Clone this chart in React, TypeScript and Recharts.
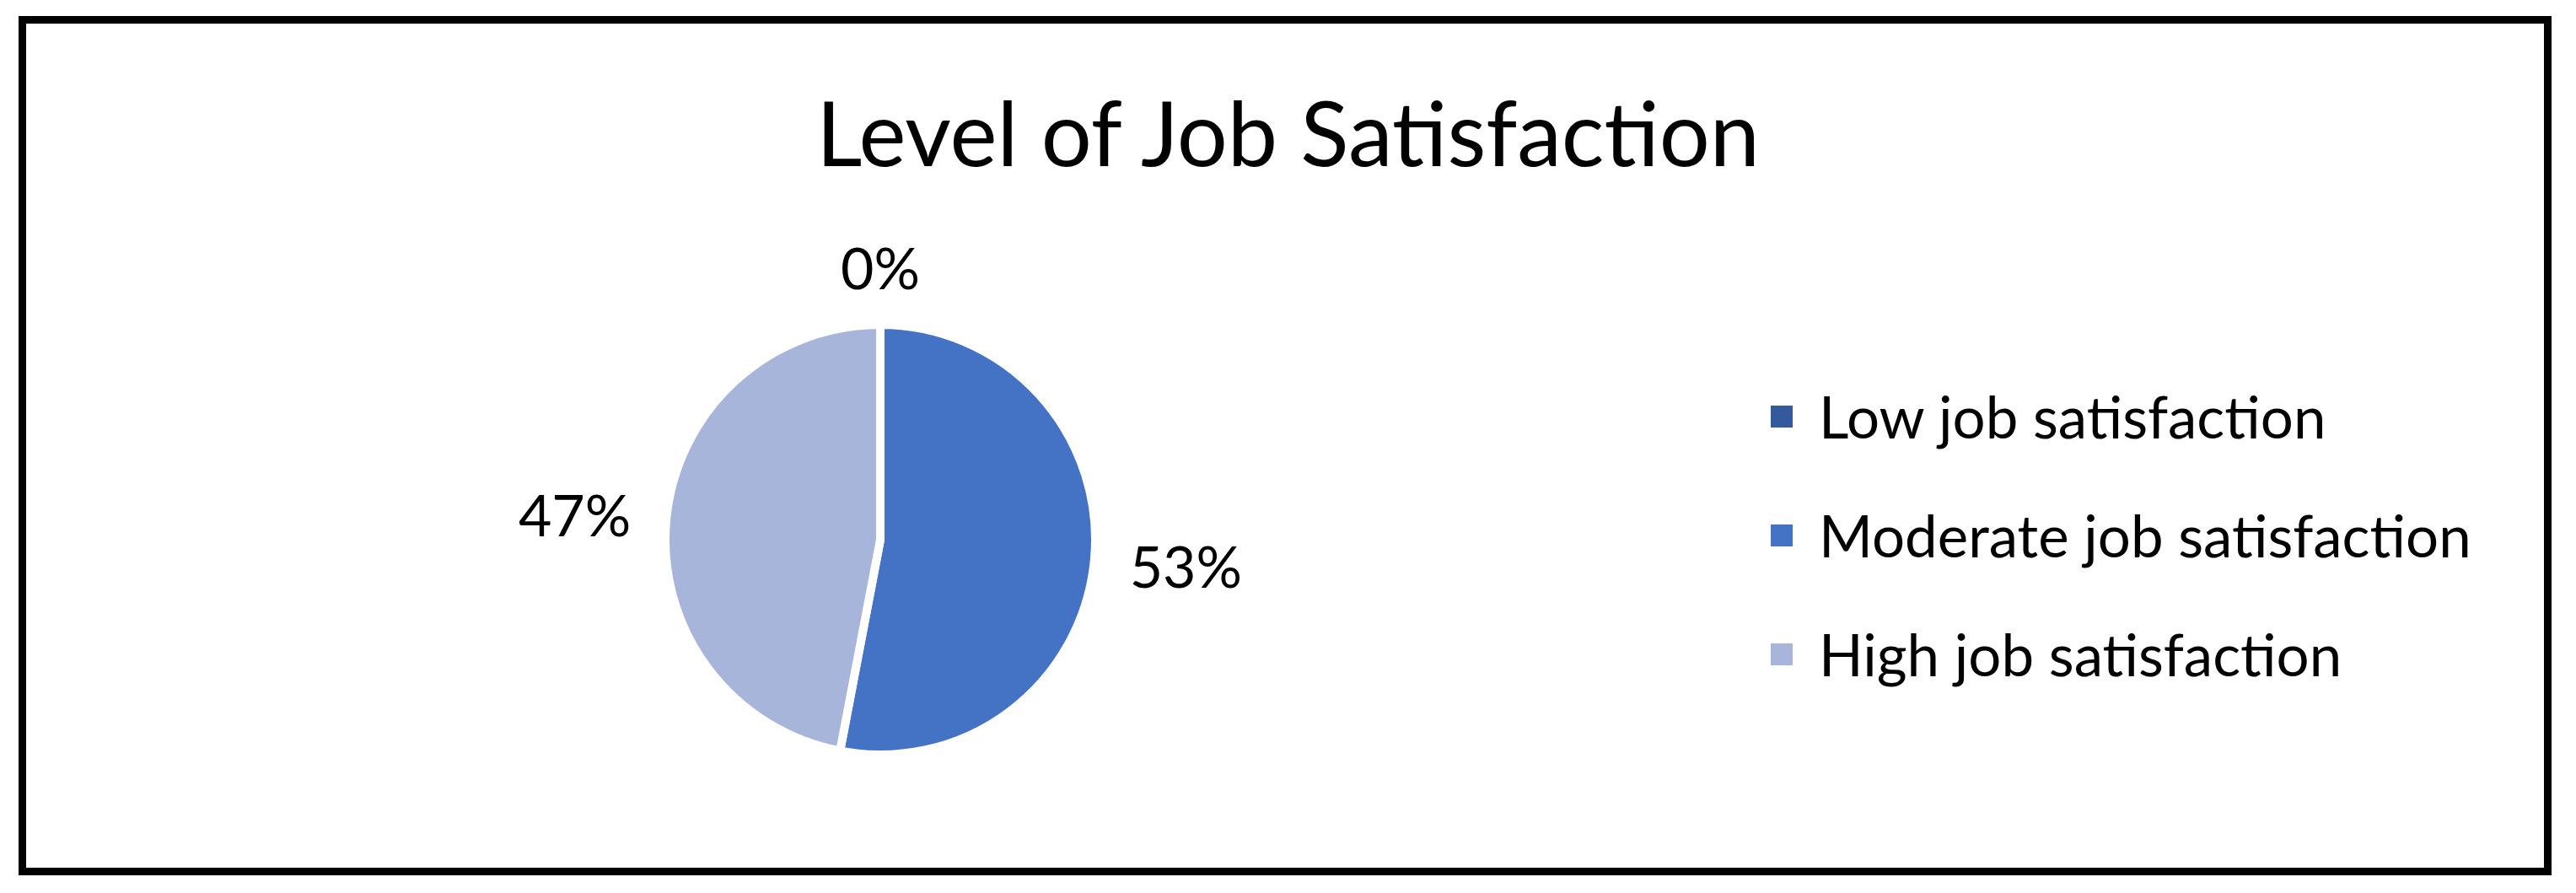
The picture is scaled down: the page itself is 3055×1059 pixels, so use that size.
import { Cell, Legend, Pie, PieChart } from "recharts";

const categories = ["Low job satisfaction", "Moderate job satisfaction", "High job satisfaction"];
const shares = [0, 53, 47];
const colors = ["#345A9E", "#4472C4", "#A7B5DA"];

const data = categories.map((name, i) => ({ name, value: shares[i] }));

const FONT = "Lato, 'Open Sans', sans-serif";
const W = 3039;
const H = 1043;
const CX = 1031;
const CY = 627;
const R = 255;

const RAD = Math.PI / 180;

function renderLabel(props: any) {
  const { cx, cy, midAngle, outerRadius, percent } = props;
  const cos = Math.cos(-midAngle * RAD);
  const sin = Math.sin(-midAngle * RAD);
  const dist = outerRadius + 42;
  const px = cx + cos * dist;
  const py = cy + sin * dist;
  const anchor = cos > 0.3 ? "start" : cos < -0.3 ? "end" : "middle";
  const y = py + sin * 27;
  return (
    <text
      x={px}
      y={y}
      textAnchor={anchor}
      dominantBaseline="central"
      fill="#000"
      fontSize={68}
      fontFamily={FONT}
    >
      {`${Math.round(percent * 100)}%`}
    </text>
  );
}

function LegendList() {
  return (
    <div style={{ fontFamily: FONT, fontSize: 69, color: "#000" }}>
      {categories.map((name, i) => (
        <div key={name} style={{ display: "flex", alignItems: "center", height: 141 }}>
          <span style={{ width: 26, height: 26, background: colors[i], marginRight: 31 }} />
          <span>{name}</span>
        </div>
      ))}
    </div>
  );
}

export default function App() {
  return (
    <div style={{ position: "relative", width: W, height: H, background: "#fff" }}>
      <div
        style={{
          position: "absolute",
          left: 14,
          top: 11,
          width: 3004,
          height: 1019,
          border: "9px solid #000",
          boxSizing: "border-box"
        }}
      />
      <div
        style={{
          position: "absolute",
          left: 0,
          width: W,
          top: 84,
          textAlign: "center",
          fontFamily: FONT,
          fontSize: 106,
          lineHeight: "128px",
          color: "#000"
        }}
      >
        Level of Job Satisfaction
      </div>
      <PieChart width={W} height={H} style={{ position: "absolute", left: 0, top: 0 }}>
        <Pie
          data={data}
          dataKey="value"
          nameKey="name"
          cx={CX}
          cy={CY}
          outerRadius={R}
          startAngle={90}
          endAngle={-270}
          stroke="#fff"
          strokeWidth={10}
          label={renderLabel}
          labelLine={false}
          isAnimationActive={false}
        >
          {data.map((d, i) => (
            <Cell key={d.name} fill={colors[i]} />
          ))}
        </Pie>
        <Legend
          content={() => <LegendList />}
          wrapperStyle={{ left: 2092, top: 415, width: 950 }}
        />
      </PieChart>
    </div>
  );
}
